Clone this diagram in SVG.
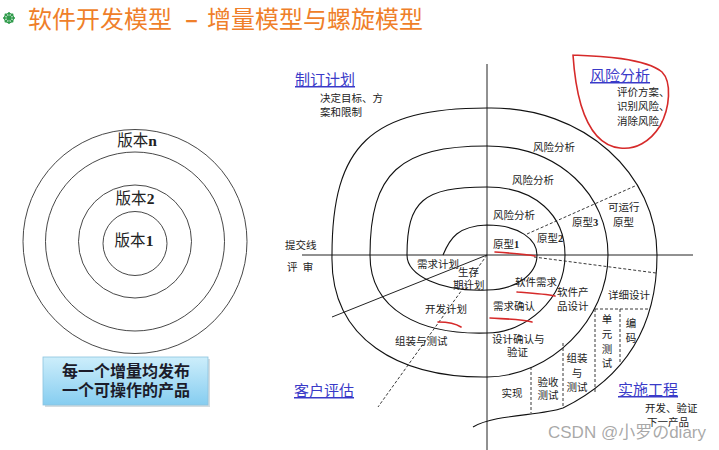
<svg xmlns="http://www.w3.org/2000/svg" width="719" height="450" viewBox="0 0 719 450">
<style>
.lbl{font-family:"Liberation Serif","Noto Sans CJK SC",serif;font-size:10.5px;fill:#222}
.head{font-family:"Liberation Serif","Noto Sans CJK SC",serif;font-size:15px;fill:#3a3ac8;text-decoration:underline}
.ver{font-family:"Liberation Serif","Noto Sans CJK SC",serif;font-size:15.5px;fill:#222}
.ring{fill:none;stroke:#333;stroke-width:0.9}
.sp{fill:none;stroke:#111;stroke-width:1.1}
.ax{fill:none;stroke:#222;stroke-width:1}
.dash{fill:none;stroke:#222;stroke-width:0.9;stroke-dasharray:3 2}
.red{fill:none;stroke:#d62a2a;stroke-width:1.6;stroke-linecap:round}
</style>
<defs>
<linearGradient id="bx" x1="0" y1="0" x2="0" y2="1">
<stop offset="0" stop-color="#cdeefb"/>
<stop offset="1" stop-color="#86cdf0"/>
</linearGradient>
</defs>
<rect width="719" height="450" fill="#ffffff"/>

<g id="title">
<g fill="none" stroke="#2e9a4a" stroke-width="1.4">
<circle cx="9" cy="18" r="4.5"/>
<path d="M9,12 V24 M3,18 H15 M4.8,13.8 L13.2,22.2 M13.2,13.8 L4.8,22.2"/>
</g>
<circle cx="9" cy="18" r="1.6" fill="#2e9a4a"/>
<text font-family="'Noto Sans CJK SC',sans-serif" font-size="24" fill="#ef7f2a" y="28"><tspan x="28">软件开发模型</tspan><tspan x="185" font-weight="700">–</tspan><tspan x="207">增量模型与螺旋模型</tspan></text>
</g>

<g id="incremental">
<circle class="ring" cx="135" cy="241.5" r="112"/>
<circle class="ring" cx="135" cy="241.5" r="89.5"/>
<circle class="ring" cx="135" cy="241.5" r="56.5"/>
<circle class="ring" cx="135" cy="243.5" r="32"/>
<text class="ver" x="137" y="146" text-anchor="middle">版本<tspan font-weight="700">n</tspan></text>
<text class="ver" x="135" y="204" text-anchor="middle">版本<tspan font-weight="700">2</tspan></text>
<text class="ver" x="134" y="246" text-anchor="middle">版本<tspan font-weight="700">1</tspan></text>
</g>

<g id="note">
<rect x="45" y="359" width="165" height="48" fill="#b8c4cc" opacity="0.6"/>
<rect x="43" y="357" width="165" height="48" fill="url(#bx)" stroke="#8cc3df" stroke-width="0.8"/>
<text font-family="'Noto Sans CJK SC',sans-serif" font-size="16" font-weight="700" fill="#1b1b2a" text-anchor="middle"><tspan x="126" y="377">每一个增量均发布</tspan><tspan x="126" y="396">一个可操作的产品</tspan></text>
</g>

<g id="connectors">
<path class="ax" d="M487,64 V450 M302,255 H693"/>
<path class="ax" d="M487,255 L332,317"/>
<path class="sp" d="M443,255 C450,238 458,226 487,225 C520,225 537,240 537,255 C537,275 515,290 487,290 C440,292 407,275 407,255 C407,201 423,187 487,187 C535,187 565,215 565,255 C565,300 525,333 487,333 C420,335 370,310 370,255 C370,173 400,146 487,146 C560,146 608,195 608,255 C608,320 550,377 487,377 C400,378 330,340 332,255 C332,145 371,108 487,108 C585,106 657,175 657,255 C657,320 630,375 563,408 C540,416 495,414 473,427"/>
<path class="dash" d="M487,255 L378,407 M527,234 L635,186 M534,257 L656,273 M595,309 H648 M595,309 V392 M620,309 V362 M563,343 V408 M531,367 V413"/>
<path class="red" d="M573,55 C600,56 645,58 662,72 C672,82 670,108 660,126 C650,142 635,150 620,148 C600,146 588,128 581,105 C576,88 574,70 573,55"/>
<path class="red" d="M495,252 C510,253 525,254 535,256 M517,292 C530,293 545,294 555,296 M490,318 C505,319 520,319 532,322 M438,322 C447,322 455,323 461,327"/>
</g>

<g id="planning">
<text class="head" x="295" y="85">制订计划</text>
<text class="lbl" x="320" y="102">决定目标、方</text>
<text class="lbl" x="320" y="116">案和限制</text>
</g>
<g id="risk">
<text class="head" x="590" y="81">风险分析</text>
<text class="lbl" x="617" y="96">评价方案、</text>
<text class="lbl" x="617" y="110">识别风险、</text>
<text class="lbl" x="617" y="125">消除风险</text>
</g>
<g id="customer">
<text class="head" x="294" y="396">客户评估</text>
</g>
<g id="engineering">
<text class="head" x="618" y="395">实施工程</text>
<text class="lbl" x="645" y="412">开发、验证</text>
<text class="lbl" x="647" y="426">下一产品</text>
</g>

<g id="spiral-labels">
<text class="lbl" x="533" y="151">风险分析</text>
<text class="lbl" x="512" y="184">风险分析</text>
<text class="lbl" x="493" y="219">风险分析</text>
<text class="lbl" x="493" y="248">原型<tspan font-weight="700">1</tspan></text>
<text class="lbl" x="537" y="242">原型<tspan font-weight="700">2</tspan></text>
<text class="lbl" x="572" y="226">原型<tspan font-weight="700">3</tspan></text>
<text class="lbl" x="608" y="211">可运行</text>
<text class="lbl" x="613" y="226">原型</text>
<text class="lbl" x="285" y="249">提交线</text>
<text class="lbl" x="287" y="271" xml:space="preserve">评  审</text>
<text class="lbl" x="417" y="268">需求计划</text>
<text class="lbl" x="458" y="276">生存</text>
<text class="lbl" x="453" y="289">期计划</text>
<text class="lbl" x="425" y="313">开发计划</text>
<text class="lbl" x="395" y="345">组装与测试</text>
<text class="lbl" x="515" y="286">软件需求</text>
<text class="lbl" x="557" y="296">软件产</text>
<text class="lbl" x="557" y="310">品设计</text>
<text class="lbl" x="493" y="310">需求确认</text>
<text class="lbl" x="608" y="299">详细设计</text>
<text class="lbl" x="492" y="343">设计确认与</text>
<text class="lbl" x="507" y="356">验证</text>
<text class="lbl" x="607" y="323" text-anchor="middle">单</text>
<text class="lbl" x="607" y="338" text-anchor="middle">元</text>
<text class="lbl" x="607" y="353" text-anchor="middle">测</text>
<text class="lbl" x="607" y="367" text-anchor="middle">试</text>
<text class="lbl" x="631" y="327" text-anchor="middle">编</text>
<text class="lbl" x="631" y="342" text-anchor="middle">码</text>
<text class="lbl" x="577" y="362" text-anchor="middle">组装</text>
<text class="lbl" x="577" y="377" text-anchor="middle">与</text>
<text class="lbl" x="577" y="391" text-anchor="middle">测试</text>
<text class="lbl" x="548" y="386" text-anchor="middle">验收</text>
<text class="lbl" x="548" y="399" text-anchor="middle">测试</text>
<text class="lbl" x="512" y="397" text-anchor="middle">实现</text>
</g>

<g id="watermark">
<text x="548" y="438" font-family="'Liberation Sans','Noto Sans CJK SC',sans-serif" font-size="17" fill="#8c8c8c" fill-opacity="0.75">CSDN @小罗のdiary</text>
</g>
</svg>
